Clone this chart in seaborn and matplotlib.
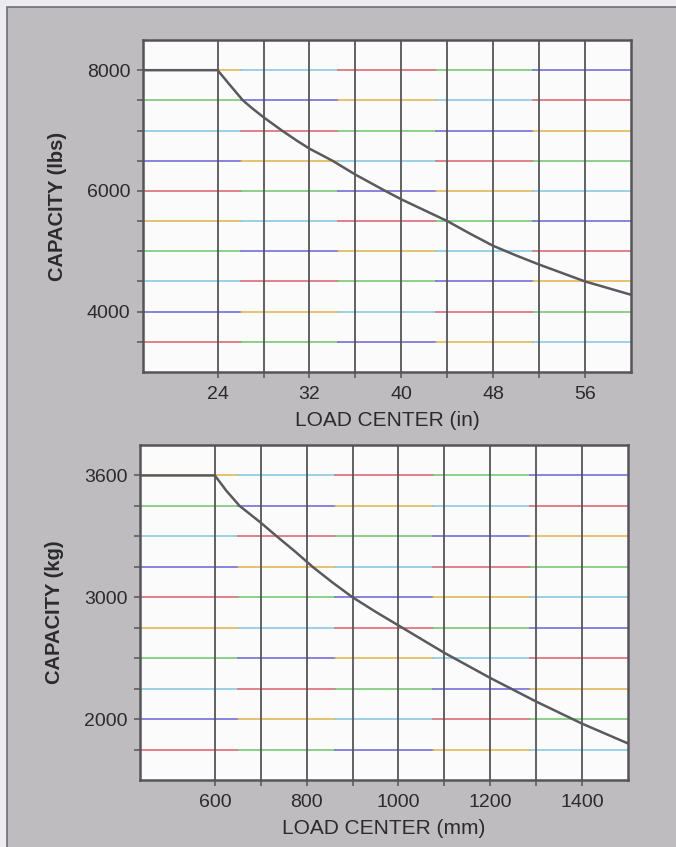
import seaborn as sns
import pandas as pd
import matplotlib.pyplot as plt
from matplotlib.patches import Rectangle

# capacity curve, imperial units
load_in = [17.5, 24, 25, 26.2, 27, 28, 29.6, 31, 32, 34, 36, 38.6, 40, 42, 44,
           46, 48, 50, 52, 54, 56, 58, 60]
cap_lbs = [8000, 8000, 7770, 7500, 7370, 7220, 7000, 6820, 6700, 6500, 6270, 6000, 5860, 5680, 5500,
           5290, 5090, 4930, 4780, 4640, 4500, 4390, 4280]

# same curve, metric units
load_mm = [440, 600, 625, 654, 700, 735, 775, 813, 855, 900, 950, 1000, 1100, 1200, 1300, 1400, 1500]
cap_kg = [3600, 3600, 3500, 3400, 3290, 3200, 3100, 3000, 2900, 2800, 2705, 2615, 2435, 2270, 2115, 1970, 1840]

# grid / tick positions
grid_in = [24, 28, 32, 36, 40, 44, 48, 52, 56]
labels_in = ['24', '', '32', '', '40', '', '48', '', '56']
grid_lbs = [3500, 4000, 4500, 5000, 5500, 6000, 6500, 7000, 7500, 8000]
labels_lbs = ['', '4000', '', '', '', '6000', '', '', '', '8000']

grid_mm = [600, 700, 800, 900, 1000, 1100, 1200, 1300, 1400]
labels_mm = ['600', '', '800', '', '1000', '', '1200', '', '1400']
grid_kg = [1800, 2000, 2200, 2400, 2600, 2800, 3000, 3200, 3400, 3600]
labels_kg = ['', '2000', '', '', '', '3000', '', '', '', '3600']

df_in = pd.DataFrame({'load': load_in, 'cap': cap_lbs})
df_mm = pd.DataFrame({'load': load_mm, 'cap': cap_kg})

sns.set_theme(style='white')
plt.rcParams['font.family'] = ['Liberation Sans', 'DejaVu Sans']

W, H = 676, 847
fig = plt.figure(figsize=(W / 100, H / 100), dpi=100)
fig.patch.set_facecolor('#ecebed')
# grey page of the scan
fig.patches.append(Rectangle((7 / W, -0.1), 1.2, (H - 7) / H + 0.1, transform=fig.transFigure,
                             facecolor='#bebcbf', edgecolor='#6f6f78', lw=1.2, zorder=-10))

ax1 = fig.add_axes([143 / W, 1 - 372 / H, 488 / W, 332 / H])
ax2 = fig.add_axes([140 / W, 1 - 780 / H, 488 / W, 335 / H])

seg_colors = ['#d9606a', '#6cc56c', '#6a62d8', '#e0b24a', '#7fc6e0']
ink = '#555559'
txt = '#2b2b2e'


def setup(ax, df, gx, lx, gy, ly, xlim, ylim, xlabel, ylabel):
    ax.set_facecolor('#fcfbfc')
    # colourful (mis-registered) horizontal rules
    n = 5
    for i, y in enumerate(gy):
        for j in range(n):
            ax.axhline(y, xmin=j / n, xmax=(j + 1) / n, color=seg_colors[(i * 2 + j) % len(seg_colors)],
                       lw=1.3, alpha=0.85, zorder=1)
    for x in gx:
        ax.axvline(x, color=ink, lw=1.3, zorder=2)
    sns.lineplot(data=df, x='load', y='cap', ax=ax, color='#5a5a5e', lw=1.8, sort=False, zorder=3)
    ax.set_xlim(*xlim)
    ax.set_ylim(*ylim)
    ax.set_xticks(gx)
    ax.set_xticklabels(lx)
    ax.set_yticks(gy)
    ax.set_yticklabels(ly)
    ax.tick_params(direction='out', length=4, width=1.1, color=ink, labelsize=14,
                   labelcolor=txt, pad=5, bottom=True, left=True)
    ax.tick_params(axis='x', pad=6)
    for s in ax.spines.values():
        s.set_color(ink)
        s.set_linewidth(1.8)
        s.set_zorder(4)
    ax.set_xlabel(xlabel, fontsize=15, color=txt, labelpad=6)
    ax.set_ylabel(ylabel, fontsize=14.5, fontweight='bold', color=txt)
    ax.yaxis.set_label_coords(-0.155, 0.5)


setup(ax1, df_in, grid_in, labels_in, grid_lbs, labels_lbs, (17.5, 60), (3000, 8500),
      'LOAD CENTER (in)', 'CAPACITY (lbs)')
setup(ax2, df_mm, grid_mm, labels_mm, grid_kg, labels_kg, (437, 1500), (1600, 3800),
      'LOAD CENTER (mm)', 'CAPACITY (kg)')

fig.savefig('out.png', dpi=100, facecolor=fig.get_facecolor())
